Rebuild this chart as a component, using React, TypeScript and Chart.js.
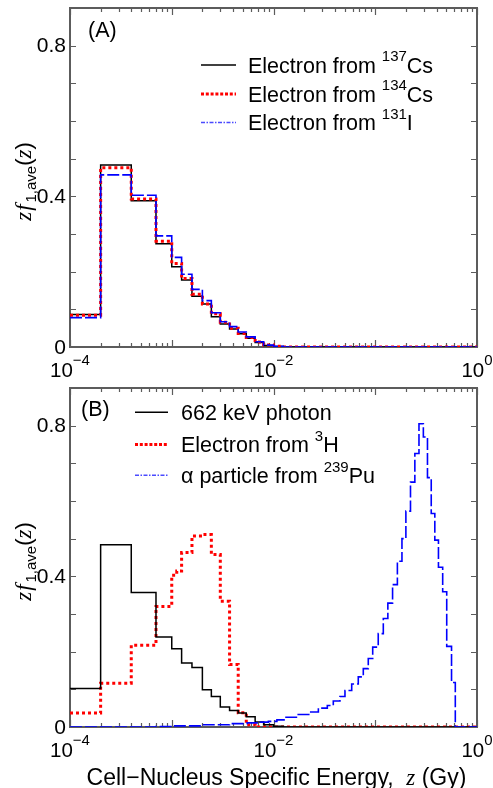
import React, { useEffect, useRef } from 'react';
import { Chart, registerables } from 'chart.js';
Chart.register(...registerables);

// ---------------- data ----------------
// Panel A: bin edges (Gy) and z*f1,ave(z) values per bin
const edgesA = [1e-4, 2e-4, 4e-4, 7e-4, 1e-3, 1.25e-3, 1.58e-3, 2e-3, 2.45e-3, 3e-3, 3.7e-3, 4.5e-3, 5.4e-3, 6.6e-3, 8e-3, 1e-2, 1.25e-2, 1];
const cs137 = [0.086, 0.483, 0.388, 0.274, 0.213, 0.178, 0.135, 0.114, 0.080, 0.061, 0.048, 0.035, 0.023, 0.012, 0.004, 0.001, 0];
const cs134 = [0.084, 0.476, 0.393, 0.281, 0.222, 0.182, 0.140, 0.114, 0.088, 0.066, 0.050, 0.036, 0.025, 0.013, 0.005, 0.002, 0];
const i131 = [0.078, 0.457, 0.403, 0.295, 0.238, 0.193, 0.153, 0.123, 0.091, 0.067, 0.054, 0.040, 0.027, 0.014, 0.005, 0.002, 0];

// Panel B
const edgesPhoton = [1e-4, 2e-4, 4e-4, 7e-4, 1e-3, 1.25e-3, 1.58e-3, 2e-3, 2.45e-3, 3e-3, 3.7e-3, 4.5e-3, 5.4e-3, 6.6e-3, 8e-3, 1e-2, 1.25e-2, 1];
const photon662 = [0.102, 0.484, 0.357, 0.239, 0.208, 0.170, 0.158, 0.099, 0.081, 0.053, 0.044, 0.037, 0.027, 0.013, 0.006, 0.002, 0];
const edgesH3 = [1e-4, 2e-4, 4e-4, 7e-4, 1e-3, 1.12e-3, 1.25e-3, 1.58e-3, 2e-3, 2.45e-3, 3e-3, 3.7e-3, 4.5e-3, 5.4e-3, 6.6e-3, 1];
const h3 = [0.037, 0.116, 0.217, 0.320, 0.403, 0.414, 0.463, 0.507, 0.511, 0.458, 0.334, 0.166, 0.038, 0.006, 0];
const edgesAlpha = [1e-4, 7e-4, 1e-3, 2e-3, 3.7e-3, 5.5e-3, 7.4e-3, 8.9e-3, 1.08e-2, 1.3e-2, 1.75e-2, 2.28e-2, 2.76e-2, 3.38e-2, 3.87e-2, 4.5e-2, 5.04e-2, 5.87e-2, 6.81e-2, 7.63e-2, 8.54e-2, 9.44e-2, 0.107, 0.12, 0.133, 0.148, 0.165, 0.183, 0.2, 0.222, 0.245, 0.269, 0.297, 0.326, 0.355, 0.385, 0.418, 0.46, 0.504, 0.562, 0.612, 1];
const pu239 = [0, 0.001, 0.003, 0.006, 0.009, 0.011, 0.013, 0.015, 0.019, 0.026, 0.033, 0.040, 0.050, 0.057, 0.069, 0.081, 0.097, 0.114, 0.133, 0.155, 0.182, 0.212, 0.248, 0.288, 0.329, 0.378, 0.440, 0.500, 0.573, 0.650, 0.726, 0.805, 0.770, 0.662, 0.567, 0.496, 0.424, 0.359, 0.214, 0.118, 0];

// Axes
const X_MIN = 1e-4;
const X_MAX = 1;
const Y_MIN = 0;
const Y_MAX = 0.9;
const xDecades = [1e-4, 1e-3, 1e-2, 1e-1, 1];
const xMinorMult = [2, 3, 4, 5, 6, 7, 8, 9];
const xLabelValues = [1e-4, 1e-2, 1];
const xLabelExps = ['\u22124', '\u22122', '0'];
const yTickValues = [0, 0.1, 0.2, 0.3, 0.4, 0.5, 0.6, 0.7, 0.8];
const yLabelValues = [0, 0.4, 0.8];
const yLabelTexts = ['0', '0.4', '0.8'];

// ---------------- styles ----------------
const SANS = '"Liberation Sans", Arial, Helvetica, sans-serif';
const SERIF = '"Liberation Serif", "Times New Roman", serif';
const FRAME = '#5c5c5c';
const S_BLACK = { color: '#000000', width: 1.5, dash: [] as number[] };
const S_RED = { color: '#ff0000', width: 3, dash: [3, 3] };
const S_BLUE = { color: '#0000ff', width: 1.6, dash: [12, 3] };

type Part = { t: string; font: string; dy?: number; dx?: number };
const sup = (t: string): Part => ({ t, font: `15px ${SANS}`, dy: -11.5 });
const txt = (t: string): Part => ({ t, font: `21.5px ${SANS}` });

function histPoints(edges: number[], values: number[]) {
  const pts = values.map((v, i) => ({ x: edges[i], y: v }));
  pts.push({ x: edges[edges.length - 1], y: values[values.length - 1] });
  return pts;
}

function ds(edges: number[], values: number[], s: { color: string; width: number; dash: number[] }) {
  return {
    data: histPoints(edges, values),
    borderColor: s.color,
    borderWidth: s.width,
    borderDash: s.dash,
    borderCapStyle: 'butt',
    stepped: true,
    fill: false,
    pointRadius: 0,
    tension: 0,
  };
}

function partsWidth(ctx: CanvasRenderingContext2D, parts: Part[]) {
  let w = 0;
  for (const p of parts) {
    ctx.font = p.font;
    w += ctx.measureText(p.t).width + (p.dx || 0);
  }
  return w;
}
function drawParts(ctx: CanvasRenderingContext2D, parts: Part[], x: number, y: number) {
  let cx = x;
  for (const p of parts) {
    ctx.font = p.font;
    cx += p.dx || 0;
    ctx.fillText(p.t, cx, y + (p.dy || 0));
    cx += ctx.measureText(p.t).width;
  }
}

type LegendEntry = { style: { color: string; width: number; dash: number[] }; parts: Part[] };
type PanelCfg = {
  tag: string;
  label: string;
  labelX: number;
  labelY: number;
  lineX0: number;
  lineX1: number;
  textX: number;
  rowsY: number[];
  entries: LegendEntry[];
  xTitle: boolean;
};

function decorPlugin(cfg: PanelCfg) {
  return {
    id: 'decor' + cfg.tag,
    beforeDatasetsDraw(chart: any) {
      const { ctx, chartArea: a, scales } = chart;
      const xs = scales.x;
      const ys = scales.y;
      ctx.save();
      ctx.strokeStyle = FRAME;
      ctx.lineWidth = 1.2;
      ctx.beginPath();
      for (const d of xDecades) {
        const px = Math.round(xs.getPixelForValue(d)) + 0.5;
        ctx.moveTo(px, a.bottom); ctx.lineTo(px, a.bottom - 7);
        ctx.moveTo(px, a.top); ctx.lineTo(px, a.top + 7);
        if (d < X_MAX) {
          for (const m of xMinorMult) {
            const q = Math.round(xs.getPixelForValue(d * m)) + 0.5;
            ctx.moveTo(q, a.bottom); ctx.lineTo(q, a.bottom - 4);
            ctx.moveTo(q, a.top); ctx.lineTo(q, a.top + 4);
          }
        }
      }
      for (const v of yTickValues) {
        const py = Math.round(ys.getPixelForValue(v)) + 0.5;
        ctx.moveTo(a.left, py); ctx.lineTo(a.left + 6, py);
        ctx.moveTo(a.right, py); ctx.lineTo(a.right - 6, py);
      }
      ctx.stroke();
      ctx.lineWidth = 2;
      ctx.strokeRect(a.left, a.top, a.right - a.left, a.bottom - a.top);
      ctx.restore();
    },
    afterDraw(chart: any) {
      const { ctx, chartArea: a, scales } = chart;
      const xs = scales.x;
      const ys = scales.y;
      ctx.save();
      ctx.fillStyle = '#000';
      ctx.textBaseline = 'alphabetic';
      ctx.textAlign = 'left';
      // y tick labels
      ctx.font = `21px ${SANS}`;
      ctx.textAlign = 'right';
      ctx.textBaseline = 'middle';
      yLabelValues.forEach((v, i) => {
        ctx.fillText(yLabelTexts[i], a.left - 4, ys.getPixelForValue(v) + 1);
      });
      ctx.textAlign = 'left';
      ctx.textBaseline = 'alphabetic';
      // x tick labels
      xLabelValues.forEach((v, i) => {
        const parts: Part[] = [
          { t: '10', font: `20.5px ${SANS}` },
          { t: xLabelExps[i], font: `15px ${SANS}`, dy: -12 },
        ];
        const w = partsWidth(ctx, parts);
        drawParts(ctx, parts, xs.getPixelForValue(v) - w / 2, a.bottom + 29.5);
      });
      // panel label
      ctx.font = `21.5px ${SANS}`;
      ctx.fillText(cfg.label, cfg.labelX, cfg.labelY);
      // legend
      cfg.entries.forEach((e, i) => {
        const y = cfg.rowsY[i];
        ctx.save();
        ctx.strokeStyle = e.style.color;
        ctx.lineWidth = e.style.width;
        ctx.setLineDash(e.style.dash);
        ctx.beginPath();
        ctx.moveTo(cfg.lineX0, y);
        ctx.lineTo(cfg.lineX1, y);
        ctx.stroke();
        ctx.restore();
        drawParts(ctx, e.parts, cfg.textX, y + 7.8);
      });
      // y title (rotated)
      const yParts: Part[] = [
        { t: 'z', font: `italic 23px ${SERIF}` },
        { t: 'f', font: `italic 23px ${SERIF}`, dx: 1 },
        { t: '1,ave', font: `15px ${SANS}`, dy: 5, dx: 2 },
        { t: '(', font: `22px ${SANS}` },
        { t: 'z', font: `italic 23px ${SERIF}` },
        { t: ')', font: `22px ${SANS}` },
      ];
      const yw = partsWidth(ctx, yParts);
      ctx.save();
      ctx.translate(31, (a.top + a.bottom) / 2 + 4);
      ctx.rotate(-Math.PI / 2);
      drawParts(ctx, yParts, -yw / 2, 0);
      ctx.restore();
      // x title
      if (cfg.xTitle) {
        const xParts: Part[] = [
          { t: 'Cell\u2212Nucleus Specific Energy,  ', font: `23px ${SANS}` },
          { t: 'z', font: `italic 23px ${SERIF}` },
          { t: ' (Gy)', font: `23px ${SANS}` },
        ];
        const xw = partsWidth(ctx, xParts);
        drawParts(ctx, xParts, 276.5 - xw / 2, a.bottom + 58);
      }
      ctx.restore();
    },
  };
}

const panelA: PanelCfg = {
  tag: 'A',
  label: '(A)',
  labelX: 88,
  labelY: 37,
  lineX0: 201,
  lineX1: 236,
  textX: 248,
  rowsY: [65, 94, 122.5],
  entries: [
    { style: S_BLACK, parts: [txt('Electron from '), sup('137'), txt('Cs')] },
    { style: { color: '#ff0000', width: 3, dash: [3, 1.8] }, parts: [txt('Electron from '), sup('134'), txt('Cs')] },
    { style: { color: '#4a4aff', width: 1.5, dash: [4, 1.5, 1.5, 1.5] }, parts: [txt('Electron from '), sup('131'), txt('I')] },
  ],
  xTitle: false,
};

const panelB: PanelCfg = {
  tag: 'B',
  label: '(B)',
  labelX: 81,
  labelY: 32,
  lineX0: 135,
  lineX1: 168,
  textX: 181,
  rowsY: [28.3, 60.5, 91.3],
  entries: [
    { style: S_BLACK, parts: [txt('662 keV photon')] },
    { style: { color: '#ff0000', width: 3, dash: [3, 1.8] }, parts: [txt('Electron from '), sup('3'), txt('H')] },
    { style: { color: '#4a4aff', width: 1.5, dash: [4, 1.5, 1.5, 1.5] }, parts: [txt('\u03b1 particle from '), sup('239'), txt('Pu')] },
  ],
  xTitle: true,
};

function makeConfig(datasets: any[], cfg: PanelCfg, padding: any) {
  return {
    type: 'line' as const,
    data: { datasets },
    options: {
      responsive: false,
      maintainAspectRatio: false,
      animation: false as const,
      layout: { padding },
      scales: {
        x: { type: 'logarithmic' as const, min: X_MIN, max: X_MAX, display: false },
        y: { type: 'linear' as const, min: Y_MIN, max: Y_MAX, display: false },
      },
      plugins: { legend: { display: false }, tooltip: { enabled: false } },
      elements: { point: { radius: 0 } },
      events: [],
    },
    plugins: [decorPlugin(cfg)],
  };
}

export default function App() {
  const refA = useRef<HTMLCanvasElement>(null);
  const refB = useRef<HTMLCanvasElement>(null);
  useEffect(() => {
    const cA = new Chart(
      refA.current as HTMLCanvasElement,
      makeConfig(
        [ds(edgesA, i131, S_BLUE), ds(edgesA, cs134, S_RED), ds(edgesA, cs137, S_BLACK)],
        panelA,
        { left: 70, right: 16, top: 8, bottom: 37 }
      ) as any
    );
    const cB = new Chart(
      refB.current as HTMLCanvasElement,
      makeConfig(
        [ds(edgesAlpha, pu239, S_BLUE), ds(edgesPhoton, photon662, S_BLACK), ds(edgesH3, h3, S_RED)],
        panelB,
        { left: 70, right: 16, top: 4, bottom: 61 }
      ) as any
    );
    return () => {
      cA.destroy();
      cB.destroy();
    };
  }, []);
  return (
    <div style={{ position: 'absolute', left: 0, top: 0, width: 493, height: 788, background: '#fff' }}>
      <canvas ref={refA} width={493} height={384} style={{ position: 'absolute', left: 0, top: 0, width: 493, height: 384 }} />
      <canvas ref={refB} width={493} height={404} style={{ position: 'absolute', left: 0, top: 384, width: 493, height: 404 }} />
    </div>
  );
}
